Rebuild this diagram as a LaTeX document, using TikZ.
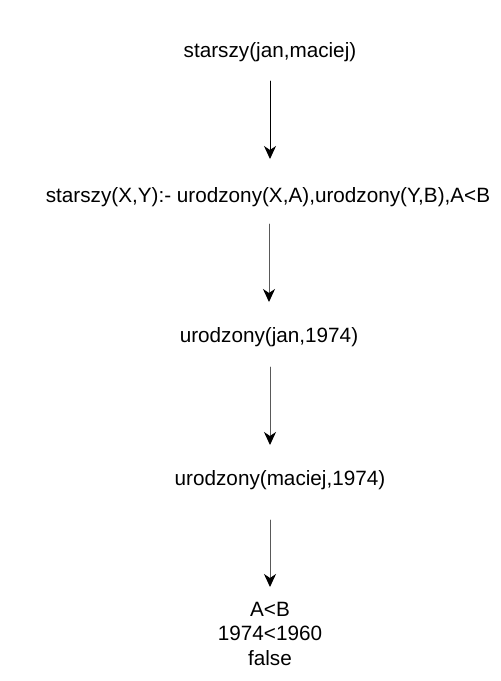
\documentclass[tikz,border=0pt]{standalone}
\usepackage{fontspec}
\setmainfont{Liberation Sans}
\usetikzlibrary{arrows.meta}

\begin{document}
\begin{tikzpicture}[x=1pt, y=-1pt, >={Stealth[length=13pt,width=12pt,inset=4pt,color=black]}, line cap=round, line join=round]
  \tikzset{
    goal/.style={font=\fontsize{20.7}{24.5}\selectfont, inner sep=0pt, align=center, anchor=base},
    step arrow/.style={->, line width=1pt, black!65}
  }
  \useasboundingbox (0,0) rectangle (501,681);

  % goals, top to bottom
  \node[goal] (query) at (270,57) {starszy(jan,maciej)};
  \node[goal] (rule)  at (268,202) {starszy(X,Y):- urodzony(X,A),urodzony(Y,B),A<B};
  \node[goal] (born1) at (269,342) {urodzony(jan,1974)};
  \node[goal] (born2) at (280,485) {urodzony(maciej,1974)};
  \node[goal] (cmp)   at (270,665) {A<B\\1974<1960\\false};

  \coordinate (a1s) at (270,81);
  \coordinate (a1e) at (270,159);
  \coordinate (a2s) at (269,224);
  \coordinate (a2e) at (269,302);
  \coordinate (a3s) at (270,367);
  \coordinate (a3e) at (270,445);
  \coordinate (a4s) at (270,520);
  \coordinate (a4e) at (270,587);

  \draw[step arrow, black] (a1s) -- (a1e);
  \draw[step arrow] (a2s) -- (a2e);
  \draw[step arrow] (a3s) -- (a3e);
  \draw[step arrow] (a4s) -- (a4e);
\end{tikzpicture}
\end{document}
